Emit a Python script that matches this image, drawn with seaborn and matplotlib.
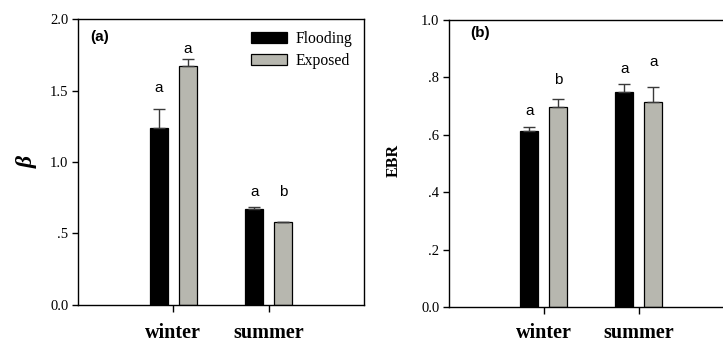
import numpy as np
import pandas as pd
import seaborn as sns
import matplotlib
matplotlib.use("Agg")
import matplotlib.pyplot as plt
from matplotlib.ticker import FuncFormatter

# data
seasons = ["winter", "summer"]
treatments = ["Flooding", "Exposed"]

beta_flood = [1.236, 0.669]
beta_exposed = [1.669, 0.580]
beta_err_flood = [0.137, 0.016]
beta_err_exposed = [0.050, 0.0]
beta_letters_flood = ["a", "a"]
beta_letters_exposed = ["a", "b"]
beta_letter_y_flood = [1.52, 0.79]
beta_letter_y_exposed = [1.79, 0.79]

ebr_flood = [0.613, 0.748]
ebr_exposed = [0.698, 0.713]
ebr_err_flood = [0.013, 0.029]
ebr_err_exposed = [0.025, 0.053]
ebr_letters_flood = ["a", "a"]
ebr_letters_exposed = ["b", "a"]
ebr_letter_y_flood = [0.683, 0.828]
ebr_letter_y_exposed = [0.791, 0.855]

sns.set_style("ticks")
plt.rcParams['font.family'] = ['Liberation Serif', 'DejaVu Serif']
plt.rcParams.update({'axes.linewidth': 1.0, 'text.color': 'black',
                     'axes.labelcolor': 'black', 'xtick.color': 'black',
                     'ytick.color': 'black', 'axes.edgecolor': 'black'})

colors = {"Flooding": "#000000", "Exposed": "#b9b9ad"}
SANS = ['Liberation Sans', 'DejaVu Sans']


def make_df(fl, ex):
    return pd.DataFrame({
        "season": seasons * 2,
        "treatment": [treatments[0]] * 2 + [treatments[1]] * 2,
        "value": list(fl) + list(ex),
    })


def lead_zero(v, pos):
    s = "%.1f" % v
    if s.startswith("0.") and s != "0.0":
        s = s[1:]
    return s


def panel(ax, fl, ex, efl, eex, lfl, lex, yfl, yex, ylim, step, show_legend, xpad):
    df = make_df(fl, ex)
    sns.barplot(data=df, x="season", y="value", hue="treatment", order=seasons,
                hue_order=treatments, palette=colors, errorbar=None,
                width=0.61, gap=0.377, edgecolor="black", linewidth=0.9,
                legend=show_legend, ax=ax)
    errs = [efl, eex]
    letters = [lfl, lex]
    letter_y = [yfl, yex]
    vals = [fl, ex]
    bars = list(ax.containers)
    for k, cont in enumerate(bars):
        xs = [p.get_x() + p.get_width() / 2 for p in cont.patches]
        ax.errorbar(xs, vals[k], yerr=[np.zeros(2), errs[k]], fmt="none",
                    ecolor="#3a3a3a", elinewidth=1.0, capsize=4.5, capthick=1.0,
                    zorder=1)
        for x, lab, yy in zip(xs, letters[k], letter_y[k]):
            ax.text(x, yy, lab, ha="center", va="center", fontsize=11,
                    family=SANS)
    ax.set_xlim(-1, 2)
    ax.set_ylim(*ylim)
    ax.set_yticks(np.arange(ylim[0], ylim[1] + 1e-9, step))
    ax.yaxis.set_major_formatter(FuncFormatter(lead_zero))
    ax.tick_params(axis="y", direction="out", length=4, width=1, labelsize=10.5, pad=3)
    ax.tick_params(axis="x", direction="out", length=5, width=1, labelsize=14.5, pad=xpad)
    for t in ax.get_xticklabels():
        t.set_fontweight("bold")
    ax.set_xlabel("")
    for s in ax.spines.values():
        s.set_visible(True)
        s.set_color("black")


fig = plt.figure(figsize=(7.23, 3.43), dpi=100)
ax1 = fig.add_axes([0.1079, 0.1108, 0.3956, 0.8338])
ax2 = fig.add_axes([0.621, 0.105, 0.394, 0.8367])

panel(ax1, beta_flood, beta_exposed, beta_err_flood, beta_err_exposed,
      beta_letters_flood, beta_letters_exposed, beta_letter_y_flood,
      beta_letter_y_exposed, (0, 2.0), 0.5, True, 8)
panel(ax2, ebr_flood, ebr_exposed, ebr_err_flood, ebr_err_exposed,
      ebr_letters_flood, ebr_letters_exposed, ebr_letter_y_flood,
      ebr_letter_y_exposed, (0, 1.0), 0.2, False, 6.5)

ax1.set_ylabel("β", fontsize=17, fontweight="bold", fontstyle="italic")
ax1.yaxis.set_label_coords(-0.14, 0.5)
ax2.set_ylabel("EBR", fontsize=11.5, fontweight="bold")
ax2.yaxis.set_label_coords(-0.165, 0.51)

ax1.text(0.077, 0.937, "(a)", transform=ax1.transAxes, ha="center", va="center",
         fontsize=11, fontweight="bold", family=SANS)
ax2.text(0.109, 0.955, "(b)", transform=ax2.transAxes, ha="center", va="center",
         fontsize=11, fontweight="bold", family=SANS)

ax1.legend(loc="upper right", frameon=False, fontsize=11.3, handlelength=2.3,
           handleheight=0.7, handletextpad=0.55, labelspacing=0.4,
           borderaxespad=0.35, title=None)

fig.savefig("out.png", dpi=100)
